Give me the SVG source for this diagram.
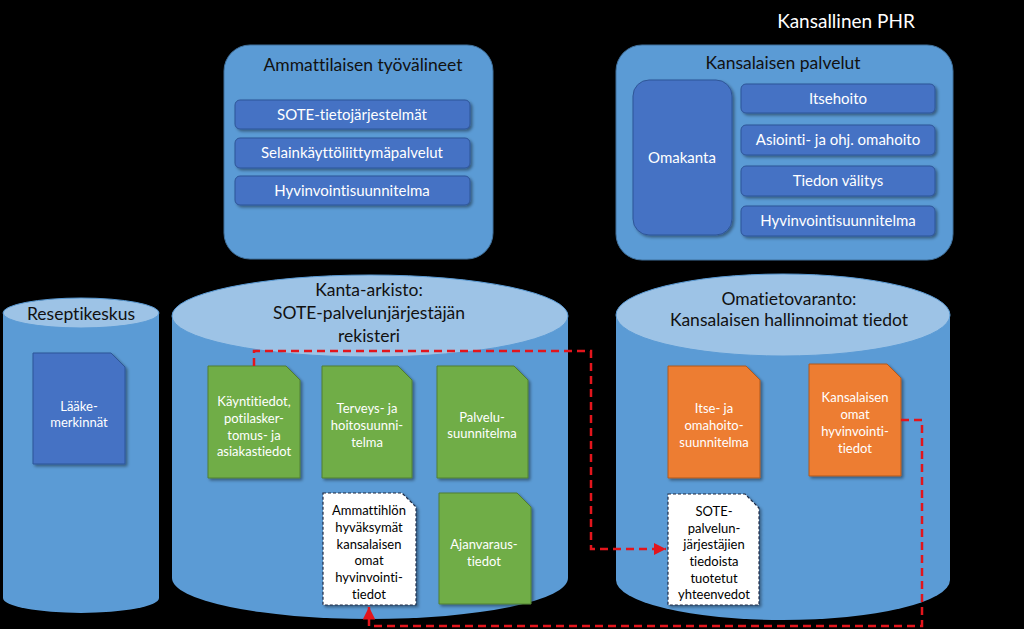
<svg xmlns="http://www.w3.org/2000/svg" width="1024" height="629" viewBox="0 0 1024 629">
<defs>
<style>
text{font-family:Lato,"Liberation Sans",sans-serif;text-anchor:middle;font-variant-ligatures:none}
.title{font-size:17.5px;fill:#111}
.item{font-size:15px;fill:#fff}
.dt{font-size:13px;fill:#fff}
.dk{font-size:13px;fill:#000}
.panel{fill:#5b9bd5;stroke:#41719c;stroke-width:1}
.inner{fill:#4472c4;stroke:#2f5597;stroke-width:1;filter:url(#sh)}
.body{fill:#5b9bd5}
.top{fill:#9dc3e6;stroke:#5b9bd5;stroke-width:1}
.green{fill:#70ad47;stroke:#507e32;stroke-width:1;filter:url(#sh)}
.orange{fill:#ed7d31;stroke:#ae5a21;stroke-width:1;filter:url(#sh)}
.blue{fill:#4472c4;stroke:#2f5597;stroke-width:1;filter:url(#sh)}
.white{fill:#fff;stroke:#1f2a44;stroke-width:1.2;stroke-dasharray:3 2;filter:url(#sh)}
.red{fill:none;stroke:#e3151c;stroke-width:2.5;stroke-dasharray:8 5}
</style>
<filter id="sh" x="-10%" y="-10%" width="130%" height="130%">
<feDropShadow dx="2" dy="2" stdDeviation="1.5" flood-color="#000" flood-opacity="0.4"/>
</filter>
<marker id="ah" viewBox="0 0 10 10" refX="10" refY="5" markerWidth="5" markerHeight="5" orient="auto" markerUnits="strokeWidth">
<path d="M0,0 L10,5 L0,10 Z" fill="#e3151c"/>
</marker>
</defs>
<rect width="1024" height="629" fill="#000"/>
<text x="846" y="28" style="font-size:19px;fill:#fff">Kansallinen PHR</text>

<g id="ammattilaisen">
<rect class="panel" x="224" y="45" width="269" height="214" rx="26"/>
<text class="title" x="363" y="71">Ammattilaisen työvälineet</text>
<rect class="inner" x="235" y="100" width="235" height="29" rx="5"/>
<text class="item" x="352" y="120">SOTE-tietojärjestelmät</text>
<rect class="inner" x="235" y="138" width="235" height="30" rx="5"/>
<text class="item" x="352" y="158">Selainkäyttöliittymäpalvelut</text>
<rect class="inner" x="235" y="176" width="235" height="29" rx="5"/>
<text class="item" x="352" y="196">Hyvinvointisuunnitelma</text>
</g>

<g id="kansalaisen-palvelut">
<rect class="panel" x="616" y="45" width="337" height="215" rx="26"/>
<text class="title" x="783" y="69">Kansalaisen palvelut</text>
<rect class="inner" x="633" y="80" width="99" height="155" rx="16"/>
<text class="item" x="682" y="163">Omakanta</text>
<rect class="inner" x="741" y="84" width="194" height="29" rx="5"/>
<text class="item" x="838" y="104">Itsehoito</text>
<rect class="inner" x="741" y="125" width="194" height="30" rx="5"/>
<text class="item" x="838" y="145">Asiointi- ja ohj. omahoito</text>
<rect class="inner" x="741" y="166" width="194" height="30" rx="5"/>
<text class="item" x="838" y="186">Tiedon välitys</text>
<rect class="inner" x="741" y="206" width="194" height="30" rx="5"/>
<text class="item" x="838" y="226">Hyvinvointisuunnitelma</text>
</g>

<g id="reseptikeskus">
<path class="body" d="M3,313 V598 A78,15 0 0 0 159,598 V313 Z"/>
<ellipse class="top" cx="81" cy="313" rx="78" ry="15"/>
<text class="title" x="81" y="320">Reseptikeskus</text>
</g>

<g id="kanta-arkisto">
<path class="body" d="M172,316 V578 A198,41 0 0 0 568,578 V316 Z"/>
<ellipse class="top" cx="370" cy="316" rx="198" ry="41"/>
<text class="title" x="369" y="296">Kanta-arkisto:</text>
<text class="title" x="369" y="319">SOTE-palvelunjärjestäjän</text>
<text class="title" x="369" y="342">rekisteri</text>
</g>

<g id="omatietovaranto">
<path class="body" d="M616,315 V580 A167,40 0 0 0 950,580 V315 Z"/>
<ellipse class="top" cx="783" cy="315" rx="167" ry="41"/>
<text class="title" x="789" y="305">Omatietovaranto:</text>
<text class="title" x="789" y="326">Kansalaisen hallinnoimat tiedot</text>
</g>

<g id="laakemerkinnat">
<path class="blue" d="M33,353 H111 L125,367 V464 H33 Z"/>
<text class="dt" x="79" y="411">Lääke-</text>
<text class="dt" x="79" y="427">merkinnät</text>
</g>

<g id="kayntitiedot">
<path class="green" d="M208,366 H286 L300,380 V478 H208 Z"/>
<text class="dt" x="254" y="406">Käyntitiedot,</text>
<text class="dt" x="254" y="423">potilasker-</text>
<text class="dt" x="254" y="440">tomus- ja</text>
<text class="dt" x="254" y="456">asiakastiedot</text>
</g>

<g id="terveys">
<path class="green" d="M322,366 H398 L412,380 V478 H322 Z"/>
<text class="dt" x="367" y="413">Terveys- ja</text>
<text class="dt" x="367" y="430">hoitosuunni-</text>
<text class="dt" x="367" y="447">telma</text>
</g>

<g id="palvelusuunnitelma">
<path class="green" d="M437,366 H514 L528,380 V478 H437 Z"/>
<text class="dt" x="482" y="422">Palvelu-</text>
<text class="dt" x="482" y="438">suunnitelma</text>
</g>

<g id="ajanvaraus">
<path class="green" d="M439,493 H517 L531,507 V604 H439 Z"/>
<text class="dt" x="484" y="549">Ajanvaraus-</text>
<text class="dt" x="484" y="566">tiedot</text>
</g>

<g id="ammattihlon">
<path class="white" d="M323,493 H402 L416,507 V605 H323 Z"/>
<text class="dk" x="369" y="515">Ammattihlön</text>
<text class="dk" x="369" y="532">hyväksymät</text>
<text class="dk" x="369" y="549">kansalaisen</text>
<text class="dk" x="369" y="565">omat</text>
<text class="dk" x="369" y="582">hyvinvointi-</text>
<text class="dk" x="369" y="599">tiedot</text>
</g>

<g id="itse-omahoito">
<path class="orange" d="M668,366 H746 L760,380 V478 H668 Z"/>
<text class="dt" x="714" y="413">Itse- ja</text>
<text class="dt" x="714" y="430">omahoito-</text>
<text class="dt" x="714" y="447">suunnitelma</text>
</g>

<g id="kansalaisen-omat">
<path class="orange" d="M809,364 H887 L901,378 V476 H809 Z"/>
<text class="dt" x="855" y="402">Kansalaisen</text>
<text class="dt" x="855" y="419">omat</text>
<text class="dt" x="855" y="436">hyvinvointi-</text>
<text class="dt" x="855" y="453">tiedot</text>
</g>

<g id="sote-yhteenvedot">
<path class="white" d="M668,494 H745 L759,508 V605 H668 Z"/>
<text class="dk" x="714" y="516">SOTE-</text>
<text class="dk" x="714" y="533">palvelun-</text>
<text class="dk" x="714" y="549">järjestäjien</text>
<text class="dk" x="714" y="566">tiedoista</text>
<text class="dk" x="714" y="583">tuotetut</text>
<text class="dk" x="714" y="599">yhteenvedot</text>
</g>

<g id="connectors">
<path class="red" d="M254,366 V351 H591 V549 H666" marker-end="url(#ah)"/>
<path class="red" d="M901,420 H922 V626 H369 V607" marker-end="url(#ah)"/>
</g>
</svg>
